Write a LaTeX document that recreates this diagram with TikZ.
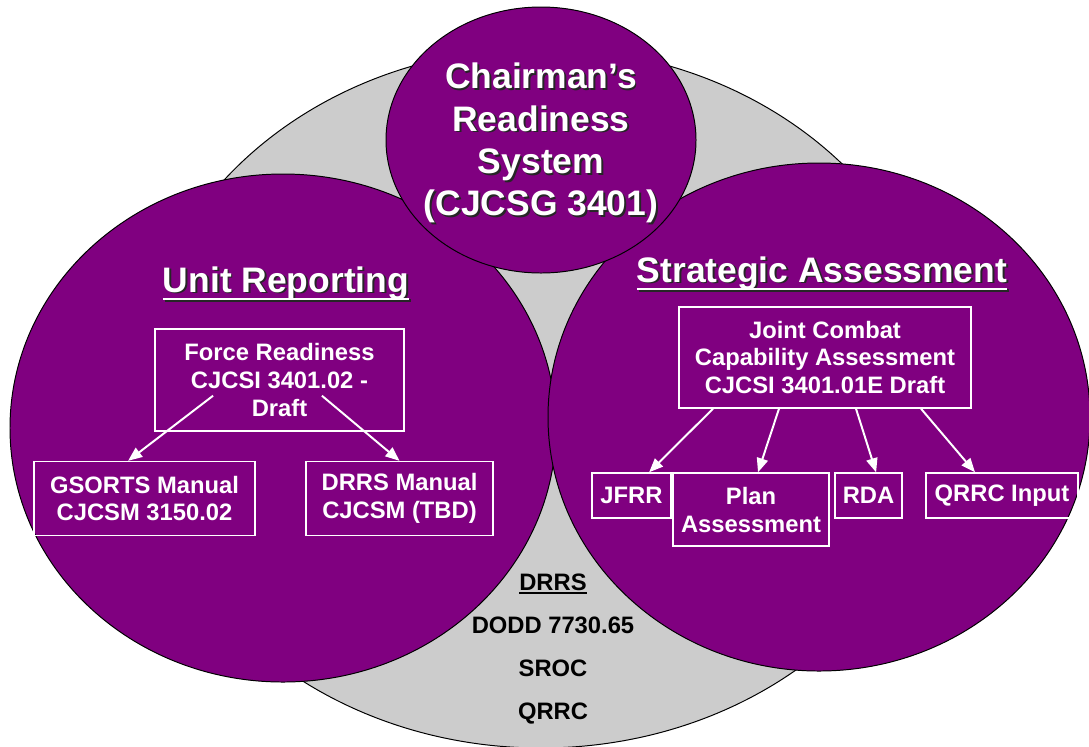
\documentclass[tikz,border=0pt]{standalone}
\usepackage{fontspec}
\setmainfont{Liberation Sans}
\usepackage{tikz}
\usetikzlibrary{arrows.meta, positioning}

\definecolor{crsPurple}{RGB}{128,0,128}
\definecolor{crsGray}{RGB}{204,204,204}

% white text with a dark drop shadow
\newcommand{\shadowed}[1]{\makebox[0pt][l]{\hspace{1.3pt}\raisebox{-1.3pt}{\color{black!85}#1}}#1}
% thick underline: depth, thickness, text
\newcommand{\barunder}[3]{\setbox0=\hbox{#3}\rlap{\rule[-#1]{\wd0}{#2}}\box0}

\tikzstyle{bubble} = [draw=black, line width=0.7pt, fill=crsPurple]
\tikzstyle{docbox} = [rectangle, draw=white, line width=1pt, text=white, align=center, inner sep=0pt, font=\bfseries\fontsize{16.9}{19.9}\selectfont]
\tikzstyle{heading} = [text=white, align=center, font=\bfseries\fontsize{25.2}{30}\selectfont]
\tikzstyle{plainlabel} = [text=black, text height=12pt, text depth=3pt, font=\bfseries\fontsize{16.9}{19.9}\selectfont]
\tikzstyle{arrow} = [white, line width=1.4pt, -{Triangle[length=10pt,width=8pt]}]

\begin{document}
\begin{tikzpicture}[x=0.025cm, y=-0.025cm, node distance=1.075cm]
\useasboundingbox (0,0) rectangle (1089,746);

% the three areas on the grey system
\draw[fill=crsGray, line width=0.7pt] (541,398) ellipse [x radius=405, y radius=350];
\draw[bubble] (283,428) ellipse [x radius=273, y radius=254];
\draw[bubble] (819,417) ellipse [x radius=271, y radius=254];
\draw[bubble] (541,140) ellipse [x radius=155, y radius=133];

\node (crs) [heading] at (541,144) {\shadowed{Chairman’s}\\\shadowed{Readiness}\\\shadowed{System}\\\shadowed{(CJCSG 3401)}};
\node (unitrep) [heading, anchor=base] at (286,292) {\shadowed{\barunder{6pt}{2pt}{Unit Reporting}}};
\node (strat) [heading, anchor=base] at (822,282) {\shadowed{\barunder{6pt}{2pt}{Strategic Assessment}}};

% unit reporting
\node (force) [docbox, minimum width=6.225cm, minimum height=2.55cm] at (279.5,380) {Force Readiness\\CJCSI 3401.02 -\\Draft};
\node (gsorts) [docbox, minimum width=5.525cm, minimum height=1.85cm] at (144.5,498.5) {GSORTS Manual\\CJCSM 3150.02};
\node (drrsman) [docbox, minimum width=4.675cm, minimum height=1.85cm] at (399.5,498.5) {DRRS Manual\\CJCSM (TBD)};

% strategic assessment
\node (jcca) [docbox, minimum width=7.3cm, minimum height=2.525cm] at (825,357.5) {Joint Combat\\Capability Assessment\\CJCSI 3401.01E Draft};
\node (jfrr) [docbox, minimum width=1.975cm, minimum height=1.125cm] at (631.5,495.5) {JFRR};
\node (plan) [docbox, minimum width=3.9cm, minimum height=1.825cm] at (751,509.5) {Plan\\Assessment};
\node (rda) [docbox, minimum width=1.675cm, minimum height=1.125cm] at (868.5,495.5) {RDA};
\node (qrrc) [docbox, minimum width=3.8cm, minimum height=1.125cm] at (1002,495.5) {QRRC Input};

% shared sources
\node (drrs) [plainlabel] at (553,584) {\barunder{2.6pt}{1.4pt}{DRRS}};
\node (dodd) [plainlabel, below of=drrs] {DODD 7730.65};
\node (sroc) [plainlabel, below of=dodd] {SROC};
\node (qrrcsrc) [plainlabel, below of=sroc] {QRRC};

\draw [arrow] ([xshift=-1.66cm, yshift=0.9cm]force.south) -- ([xshift=-0.41cm]gsorts.north);
\draw [arrow] ([xshift=1.06cm, yshift=0.9cm]force.south) -- (drrsman.north);
\draw [arrow] ([xshift=-2.8cm]jcca.south) -- ([xshift=0.44cm]jfrr.north);
\draw [arrow] ([xshift=-1.15cm]jcca.south) -- ([xshift=0.175cm]plan.north);
\draw [arrow] ([xshift=0.775cm]jcca.south) -- ([xshift=0.19cm]rda.north);
\draw [arrow] ([xshift=2.4cm]jcca.south) -- ([xshift=-0.675cm]qrrc.north);

\end{tikzpicture}
\end{document}
